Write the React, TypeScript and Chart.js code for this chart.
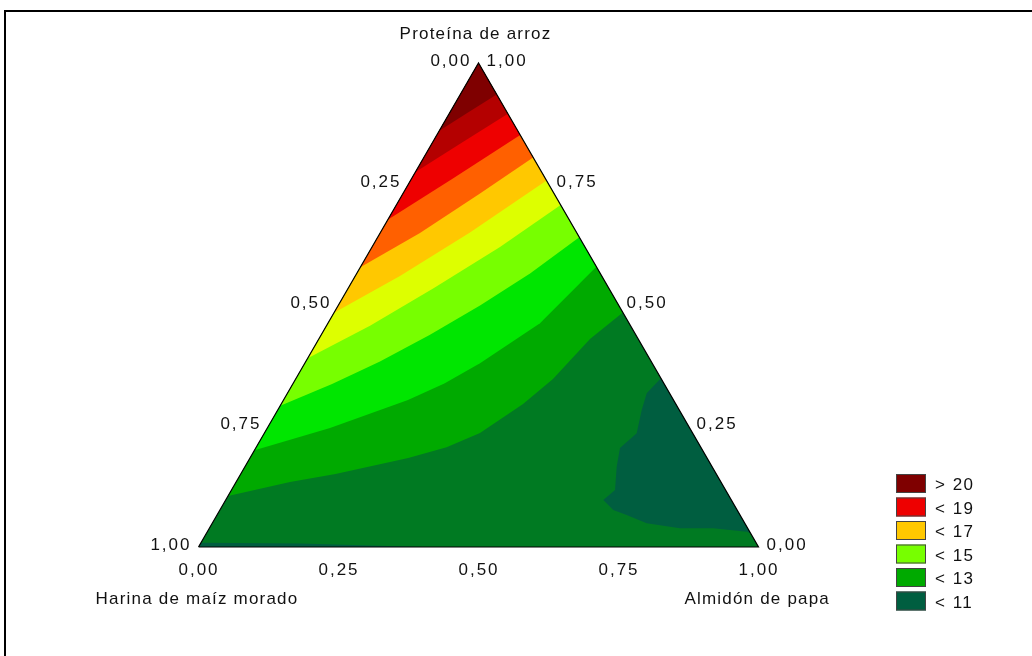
import React, { useEffect, useRef } from 'react';
import { Chart, registerables } from 'chart.js';

Chart.register(...registerables);

// Ternary point: [Almidón de papa, Proteína de arroz]; Harina de maíz morado = 1 - both
type TernaryPoint = [number, number];

const topAxisTitle = 'Proteína de arroz';
const leftAxisTitle = 'Harina de maíz morado';
const rightAxisTitle = 'Almidón de papa';

const tickValues = [0, 0.25, 0.5, 0.75, 1];
const tickLabels = ['0,00', '0,25', '0,50', '0,75', '1,00'];

const triangle: TernaryPoint[] = [[0, 0], [1, 0], [0, 1]];

// contour lines (left edge -> right edge)
const contour12: TernaryPoint[] = [[0, 0.1054], [0.0963, 0.1343], [0.1692, 0.1508], [0.2826, 0.1839], [0.34, 0.206], [0.3849, 0.2355], [0.4318, 0.2955], [0.4594, 0.3471], [0.4842, 0.4298], [0.5155, 0.4845]];
const contour13: TernaryPoint[] = [[0, 0.2], [0.1119, 0.2459], [0.2222, 0.3037], [0.27, 0.338], [0.3129, 0.3795], [0.3787, 0.4622], [0.421, 0.579]];
const contour14: TernaryPoint[] = [[0, 0.292], [0.07, 0.337], [0.1323, 0.3835], [0.1941, 0.4386], [0.2531, 0.4992], [0.3094, 0.5653], [0.36, 0.64]];
const contour15: TernaryPoint[] = [[0, 0.39], [0.0778, 0.457], [0.1529, 0.5351], [0.2285, 0.6198], [0.2934, 0.7066]];
const contour16: TernaryPoint[] = [[0, 0.484], [0.0798, 0.5599], [0.1598, 0.65], [0.243, 0.757]];
const contour17: TernaryPoint[] = [[0, 0.578], [0.0711, 0.6488], [0.1374, 0.7306], [0.195, 0.805]];
const contour18: TernaryPoint[] = [[0, 0.676], [0.074, 0.762], [0.149, 0.851]];
const contour19: TernaryPoint[] = [[0, 0.775], [0.0525, 0.835], [0.105, 0.895]];
const contour20: TernaryPoint[] = [[0, 0.86], [0.0325, 0.8975], [0.065, 0.935]];

const contourLevels = [12, 13, 14, 15, 16, 17, 18, 19, 20];
const contourLines = [contour12, contour13, contour14, contour15, contour16, contour17, contour18, contour19, contour20];
const bandColors = ['#00AA00', '#00E600', '#77FF00', '#DDFF00', '#FFC800', '#FF6000', '#EE0000', '#B40000', '#7F0000'];
const band11Color = '#007A22';
const below11Color = '#005E40';

// regions below 11
const below11PatchRight: TernaryPoint[] = [[0.6514, 0.3486], [0.6416, 0.3176], [0.6499, 0.2831], [0.665, 0.2349], [0.6504, 0.2045], [0.6638, 0.1659], [0.6849, 0.1178], [0.6743, 0.0971], [0.7025, 0.0764], [0.7315, 0.0661], [0.7759, 0.049], [0.8405, 0.0386], [0.9, 0.0386], [0.9631, 0.0316], [0.9717, 0.0283]];
const below11PatchLeft: TernaryPoint[] = [[0, 0], [0, 0.009], [0.1777, 0.0072], [0.4009, 0]];

const legendLabels = ['> 20', '< 19', '< 17', '< 15', '< 13', '< 11'];
const legendColors = ['#7F0000', '#EE0000', '#FFC800', '#77FF00', '#00AA00', '#005E40'];

const toXY = ([a, p]: TernaryPoint) => ({ x: a + p / 2, y: p });

const FONT = '17px "Liberation Sans", Arial, sans-serif';

const textPlugin = {
  id: 'ternaryText',
  afterDraw(chart: any) {
    const ctx: CanvasRenderingContext2D = chart.ctx;
    const xs = chart.scales.x;
    const ys = chart.scales.y;
    const px = (a: number, p: number) => ({ x: xs.getPixelForValue(a + p / 2), y: ys.getPixelForValue(p) });
    ctx.save();
    // frame
    ctx.fillStyle = '#000';
    ctx.fillRect(4, 10, chart.width, 2);
    ctx.fillRect(4, 10, 2, chart.height);

    ctx.font = FONT;
    ctx.fillStyle = '#111';
    ctx.textBaseline = 'alphabetic';
    (ctx as any).letterSpacing = '2px';
    tickValues.forEach((v, i) => {
      const l = px(0, 1 - v);
      ctx.textAlign = 'right';
      ctx.fillText(tickLabels[i], l.x - 7, l.y + 2.5);
      const r = px(1 - v, v);
      ctx.textAlign = 'left';
      ctx.fillText(tickLabels[i], r.x + 8, r.y + 2.5);
      const b = px(v, 0);
      ctx.textAlign = 'center';
      ctx.fillText(tickLabels[i], b.x + 0.5, b.y + 28);
    });

    (ctx as any).letterSpacing = '1.2px';
    const top = px(0, 1);
    const bl = px(0, 0);
    const br = px(1, 0);
    ctx.textAlign = 'center';
    ctx.fillText(topAxisTitle, top.x - 3, top.y - 24.5);
    ctx.fillText(leftAxisTitle, bl.x - 1.5, bl.y + 57);
    ctx.fillText(rightAxisTitle, br.x - 1.3, br.y + 57);

    // legend
    (ctx as any).letterSpacing = '1.5px';
    ctx.textAlign = 'left';
    legendLabels.forEach((lab, i) => {
      const y = 474 + i * 23.5;
      ctx.fillStyle = legendColors[i];
      ctx.fillRect(896, y, 30, 19);
      ctx.strokeStyle = '#444';
      ctx.lineWidth = 1;
      ctx.strokeRect(896.5, y + 0.5, 29, 18);
      ctx.fillStyle = '#111';
      ctx.fillText(lab, 935, y + 16);
    });
    ctx.restore();
  },
};

const polygon = (pts: TernaryPoint[], color: string, order: number) => ({
  data: pts.map(toXY),
  fill: 'shape',
  backgroundColor: color,
  borderColor: color,
  borderWidth: 0,
  pointRadius: 0,
  order,
  clip: false,
});

export default function App() {
  const ref = useRef<HTMLCanvasElement>(null);
  useEffect(() => {
    const canvas = ref.current!;
    const datasets: any[] = [];
    datasets.push(polygon(triangle, band11Color, 100));
    datasets.push(polygon(below11PatchRight, below11Color, 95));
    datasets.push(polygon(below11PatchLeft, below11Color, 94));
    contourLevels.forEach((lvl, i) => {
      const region: TernaryPoint[] = [...contourLines[i], [0, 1]];
      datasets.push(polygon(region, bandColors[i], 90 - i));
    });
    datasets.push({
      data: [...triangle, triangle[0]].map(toXY),
      fill: false,
      borderColor: '#000',
      borderWidth: 1.2,
      pointRadius: 0,
      order: 0,
      clip: false,
    });
    const chart = new Chart(canvas, {
      type: 'line',
      data: { datasets },
      options: {
        animation: false,
        responsive: false,
        maintainAspectRatio: false,
        devicePixelRatio: 1,
        events: [],
        layout: { padding: { left: 198.5, right: 273.5, top: 63, bottom: 109 }, autoPadding: false },
        scales: {
          x: { type: 'linear', min: 0, max: 1, display: false },
          y: { type: 'linear', min: 0, max: 1, display: false },
        },
        elements: { point: { radius: 0 }, line: { tension: 0 } },
        plugins: { legend: { display: false }, tooltip: { enabled: false } },
      } as any,
      plugins: [textPlugin],
    });
    return () => chart.destroy();
  }, []);
  return (
    <div style={{ position: 'absolute', left: 0, top: 0, width: 1032, height: 656, background: '#fff' }}>
      <canvas ref={ref} width={1032} height={656} style={{ display: 'block', width: 1032, height: 656 }} />
    </div>
  );
}
